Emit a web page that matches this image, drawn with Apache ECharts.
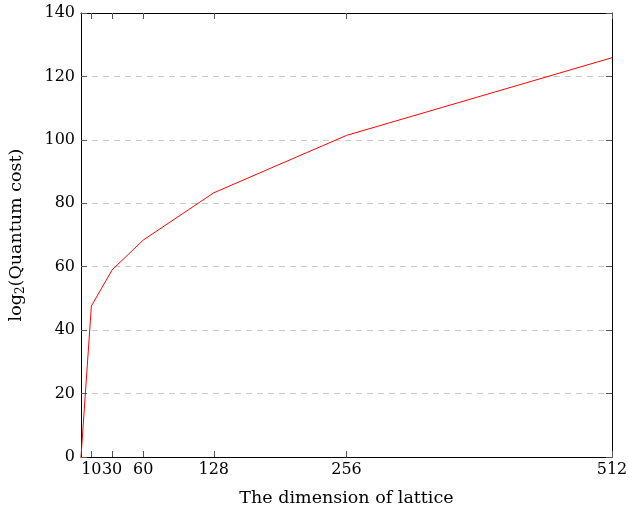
<!DOCTYPE html>
<html><head><meta charset="utf-8">
<script src="https://cdn.jsdelivr.net/npm/echarts@6/dist/echarts.min.js"></script>
<style>html,body{margin:0;padding:0;background:#fff}#c{width:629px;height:508px}</style>
</head><body><div id="c"></div>
<script>
const xValues = [0, 10, 30, 60, 128, 256, 512];
const yValues = [0, 47.6, 59.0, 68.4, 83.3, 101.4, 125.9];
const xTicks = [10, 30, 60, 128, 256, 512];
const yTicks = [0, 20, 40, 60, 80, 100, 120, 140];

const font = 'DejaVu Serif';
const chart = echarts.init(document.getElementById('c'), null, {renderer: 'canvas'});
const tickStyle = {show: true, inside: true, length: 6, lineStyle: {color: '#555', width: 1}};
chart.setOption({
  animation: false,
  grid: {left: 81, right: 17, top: 13, bottom: 51, show: false, containLabel: false, outerBoundsMode: 'none'},
  xAxis: [{
    type: 'value', min: 0, max: 512, position: 'bottom',
    name: 'The dimension of lattice', nameLocation: 'middle', nameGap: 32,
    nameTextStyle: {fontFamily: font, fontSize: 17.5, color: '#000'},
    axisLine: {show: true, onZero: false, lineStyle: {color: '#000', width: 1}},
    axisTick: Object.assign({customValues: xTicks}, tickStyle),
    axisLabel: {customValues: xTicks, fontFamily: font, fontSize: 16, color: '#000', margin: 5},
    splitLine: {show: false}
  }, {
    type: 'value', min: 0, max: 512, position: 'top',
    axisLine: {show: true, onZero: false, lineStyle: {color: '#000', width: 1}},
    axisTick: Object.assign({customValues: xTicks}, tickStyle),
    axisLabel: {show: false},
    splitLine: {show: false}
  }],
  yAxis: [{
    type: 'value', min: 0, max: 140, interval: 20, position: 'left',
    name: 'log{s|2}(Quantum cost)', nameLocation: 'middle', nameGap: 54, nameRotate: 90,
    nameTextStyle: {fontFamily: font, fontSize: 17.5, color: '#000',
      rich: {s: {fontFamily: font, fontSize: 12, color: '#000', verticalAlign: 'bottom', padding: [9, 0, 0, 0]}}},
    axisLine: {show: true, onZero: false, lineStyle: {color: '#000', width: 1}},
    axisTick: tickStyle,
    axisLabel: {fontFamily: font, fontSize: 16, color: '#000', margin: 6},
    splitLine: {show: true, lineStyle: {color: '#c8c8c8', width: 1, type: [6, 5]}}
  }, {
    type: 'value', min: 0, max: 140, interval: 20, position: 'right',
    axisLine: {show: true, onZero: false, lineStyle: {color: '#000', width: 1}},
    axisTick: tickStyle,
    axisLabel: {show: false},
    splitLine: {show: false}
  }],
  series: [{
    type: 'line', xAxisIndex: 0, yAxisIndex: 0,
    data: xValues.map((x, i) => [x, yValues[i]]),
    showSymbol: false, symbol: 'none',
    lineStyle: {color: '#ff0000', width: 1},
    z: 5
  }]
});
</script></body></html>
